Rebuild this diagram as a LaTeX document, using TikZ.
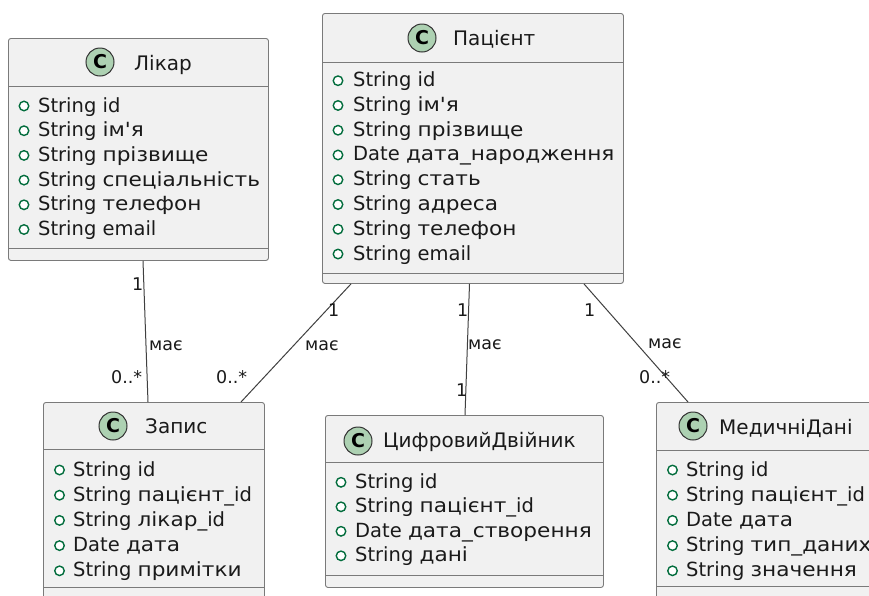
\documentclass[tikz,border=0pt]{standalone}
\usepackage{fontspec}
\newfontfamily\dv{DejaVu Sans}
\newfontfamily\dvw{DejaVu Sans}[FakeStretch=1.11]
\newcommand\cy[1]{{\dvw #1}}
\definecolor{boxfill}{HTML}{F1F1F1}
\definecolor{boxline}{HTML}{7A7A7A}
\definecolor{circfill}{HTML}{ADD1B2}
\definecolor{attrgreen}{HTML}{038048}
\definecolor{txt}{HTML}{1A1A1A}
\tikzset{
  classbox/.style={draw=boxline, fill=boxfill, line width=0.9pt, rounded corners=2.5pt, inner sep=0pt, anchor=north west},
  sepline/.style={draw=boxline, line width=0.9pt},
  cmark/.style={circle, draw=black!80, line width=1pt, fill=circfill, minimum size=28pt, inner sep=0pt, font=\dv\fontsize{19}{19}\selectfont\bfseries},
  hdr/.style={anchor=base west, inner sep=0pt, text=txt, font=\dv\fontsize{20}{22}\selectfont},
  attr/.style={anchor=base west, inner sep=0pt, text=txt, font=\dv\fontsize{19.5}{22}\selectfont},
  pub/.style={circle, draw=attrgreen!85!black, fill=white, line width=1.4pt, minimum size=9.5pt, inner sep=0pt},
  conn/.style={draw=black!75, line width=1pt},
  lbl/.style={anchor=base west, inner sep=0pt, text=txt, font=\dv\fontsize{17.5}{19}\selectfont},
}
\begin{document}
\begin{tikzpicture}[x=1pt,y=-1pt]
\useasboundingbox (0,0) rectangle (869,595);
\clip (0,0) rectangle (869,595);
\fill[white] (0,0) rectangle (869,595);

% ---------- Лікар ----------
\node[classbox, minimum width=260pt, minimum height=222pt] (likar) at (8,38) {};
\draw[sepline] (8,86) -- (268,86);
\draw[sepline] (8,248) -- (268,248);
\node[cmark] (likarC) at (100,62) {C};
\node[hdr] (likarT) at (134,70) {Лікар};
\foreach \t [count=\i from 0] in {String id, String \cy{ім'я}, String \cy{прізвище}, String \cy{спеціальність}, String \cy{телефон}, String email}{
  \node[pub] (likarP\i) at (24,106+24.7*\i) {};
  \node[attr] (likarA\i) at (38,112+24.7*\i) {\t};
}

% ---------- Пацієнт ----------
\node[classbox, minimum width=301pt, minimum height=270pt] (pac) at (322,13) {};
\draw[sepline] (322,62) -- (623,62);
\draw[sepline] (322,273) -- (623,273);
\node[cmark] (pacC) at (422,38) {C};
\node[hdr] (pacT) at (453,45) {Пацієнт};
\foreach \t [count=\i from 0] in {String id, String \cy{ім'я}, String \cy{прізвище}, Date \cy{дата\_народження}, String \cy{стать}, String \cy{адреса}, String \cy{телефон}, String email}{
  \node[pub] (pacP\i) at (338,80.7+24.76*\i) {};
  \node[attr] (pacA\i) at (353,86.7+24.76*\i) {\t};
}

% ---------- Запис ----------
\node[classbox, minimum width=221pt, minimum height=220pt] (zap) at (43,402) {};
\draw[sepline] (43,449) -- (264,449);
\draw[sepline] (43,587) -- (264,587);
\node[cmark] (zapC) at (113,426) {C};
\node[hdr] (zapT) at (145,433) {Запис};
\foreach \t [count=\i from 0] in {String id, String \cy{пацієнт}\_id, String \cy{лікар}\_id, Date \cy{дата}, String \cy{примітки}}{
  \node[pub] (zapP\i) at (59.5,470+25.2*\i) {};
  \node[attr] (zapA\i) at (73,476+25.2*\i) {\t};
}

% ---------- ЦифровийДвійник ----------
\node[classbox, minimum width=278pt, minimum height=172pt] (cyf) at (325,415) {};
\draw[sepline] (325,462) -- (603,462);
\draw[sepline] (325,575) -- (603,575);
\node[cmark] (cyfC) at (358,441) {C};
\node[hdr] (cyfT) at (383,447) {ЦифровийДвійник};
\foreach \t [count=\i from 0] in {String id, String \cy{пацієнт}\_id, Date \cy{дата\_створення}, String \cy{дані}}{
  \node[pub] (cyfP\i) at (341,482.3+24.5*\i) {};
  \node[attr] (cyfA\i) at (355,488.3+24.5*\i) {\t};
}

% ---------- МедичніДані ----------
\node[classbox, minimum width=230pt, minimum height=220pt] (med) at (656,402) {};
\draw[sepline] (656,450) -- (886,450);
\draw[sepline] (656,586) -- (886,586);
\node[cmark] (medC) at (693,426) {C};
\node[hdr] (medT) at (719,434) {МедичніДані};
\foreach \t [count=\i from 0] in {String id, String \cy{пацієнт}\_id, Date \cy{дата}, String \cy{тип\_даних}, String \cy{значення}}{
  \node[pub] (medP\i) at (672.5,470+25.2*\i) {};
  \node[attr] (medA\i) at (686,476+25.2*\i) {\t};
}

% ---------- connectors ----------
\draw[conn] ([xshift=135pt]likar.south west) -- ([xshift=105pt]zap.north west);
\draw[conn] ([xshift=29pt]pac.south west) -- ([xshift=198pt]zap.north west);
\draw[conn] ([xshift=147.5pt]pac.south west) -- ([xshift=140pt]cyf.north west);
\draw[conn] ([xshift=262pt]pac.south west) -- ([xshift=32pt]med.north west);

% ---------- labels ----------
\node[lbl] (l1a) at (132,290) {1};
\node[lbl] (l1b) at (149,350) {має};
\node[lbl] (l1c) at (111,383) {0..*};

\node[lbl] (l2a) at (328,316) {1};
\node[lbl] (l2b) at (305,350) {має};
\node[lbl] (l2c) at (216,383) {0..*};

\node[lbl] (l3a) at (457,316) {1};
\node[lbl] (l3b) at (468,349) {має};
\node[lbl] (l3c) at (456,396) {1};

\node[lbl] (l4a) at (584,316) {1};
\node[lbl] (l4b) at (648,348) {має};
\node[lbl] (l4c) at (639,383) {0..*};
\end{tikzpicture}
\end{document}
